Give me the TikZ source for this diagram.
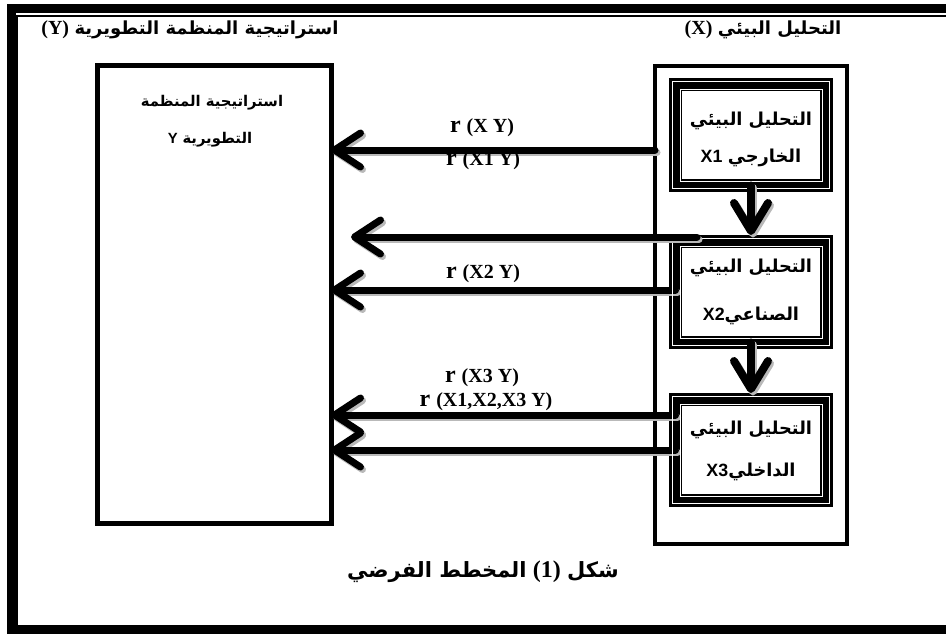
\documentclass[tikz,border=0pt]{standalone}
\usepackage{fontspec}
\TeXXeTstate=1
\newfontfamily\arabfont[Script=Arabic]{DejaVu Sans}
\newfontfamily\seriffont{Liberation Serif}
\newfontfamily\sansfont{Liberation Sans}
\usetikzlibrary{arrows.meta}
\newcommand\artext[1]{{\arabfont\bfseries\beginR #1\endR}}
\newcommand\lat[1]{{\sansfont\bfseries #1}}
\newcommand\rlab[1]{{\seriffont\bfseries{\fontsize{24}{24}\selectfont r }{\fontsize{20}{20}\selectfont #1}}}
\newcommand\harrow[3]{\draw[#1,shadowed] #2 -- #3; \draw[#1] #2 -- #3;}
\newcommand\sframe[1]{%
  \draw[white, line width=1pt] ([shift={(-3,-3)}]#1.north west) rectangle ([shift={(3,3)}]#1.south east);
  \draw[white, line width=1pt] ([shift={(4.5,4.5)}]#1.north west) rectangle ([shift={(-4.5,-4.5)}]#1.south east);}
\begin{document}
\begin{tikzpicture}[x=1pt,y=-1pt,
  every node/.style={inner sep=0pt, outer sep=0pt},
  ybox/.style={draw, line width=5pt, minimum width=234pt, minimum height=458pt},
  xbox/.style={draw, line width=4pt, minimum width=192pt, minimum height=478pt},
  sbox/.style={draw, line width=13pt, minimum width=151pt, minimum height=101pt},
  btext/.style={font=\fontsize{17.8}{18}\selectfont, anchor=center},
  ytext/.style={font=\fontsize{14.8}{15}\selectfont, anchor=center},
  htext/.style={font=\fontsize{18}{18}\selectfont, anchor=center},
  labtext/.style={anchor=center},
  shadowed/.style={draw=gray!55, transform canvas={xshift=2pt,yshift=-2.5pt}},
  larrow/.style={line width=7pt, line cap=round,
     -{Straight Barb[length=26pt,width=34pt,round]}},
  darrow/.style={line width=8pt, line cap=round,
     -{Straight Barb[length=28pt,width=34pt,round]}}
]
\useasboundingbox (0,0) rectangle (946,633);
\begin{scope}
\clip (0,0) rectangle (946,633);
\draw[line width=9pt] (11,8.5) rectangle (975,629.5);
\draw[line width=2pt] (17,16) rectangle (965,626);
\end{scope}

% headings
\node[htext] (hy) at (190,30) {{\seriffont\bfseries\fontsize{20}{20}\selectfont (Y)} \artext{استراتيجية المنظمة التطويرية}};
\node[htext] (hx) at (763,30) {{\seriffont\bfseries\fontsize{20}{20}\selectfont (X)} \artext{التحليل البيئي}};

% main boxes
\node[ybox] (ybox) at (214,294) {};
\node[xbox] (xbox) at (751,305) {};

\node[ytext] (y1) at (212,103) {\artext{استراتيجية المنظمة}};
\node[ytext] (y2) at (210,140) {\lat{Y} \artext{التطويرية}};

% arrow rows
\coordinate (a1) at (0,150);
\coordinate (a2s) at (697,237);
\coordinate (a2e) at (351,237);
\coordinate (a3) at (0,290);
\coordinate (a4) at (0,415);
\coordinate (a5) at (0,450);
\coordinate (c1) at (751,135);
\coordinate (c2) at (751,292);
\coordinate (c3) at (751,450);

\node[sbox] (x1) at (c1) {};
\node[sbox] (x2) at (c2) {};
\node[sbox] (x3) at (c3) {};

\harrow{larrow}{(xbox.west |- a1)}{(ybox.east |- a1)}
\harrow{larrow}{(x2.west |- a3)}{(ybox.east |- a3)}
\harrow{larrow}{(x3.west |- a4)}{(ybox.east |- a4)}
\harrow{larrow}{(x3.west |- a5)}{(ybox.east |- a5)}

\sframe{x1}
\sframe{x2}
\sframe{x3}

\harrow{larrow}{(a2s)}{(a2e)}

\node[btext] (x1a) at (751,121) {\artext{التحليل البيئي}};
\node[btext] (x1b) at (751,158) {\lat{X1} \artext{الخارجي}};
\node[btext] (x2a) at (751,268) {\artext{التحليل البيئي}};
\node[btext] (x2b) at (751,316) {\lat{X2}\artext{الصناعي}};
\node[btext] (x3a) at (751,430) {\artext{التحليل البيئي}};
\node[btext] (x3b) at (751,472) {\lat{X3}\artext{الداخلي}};

\harrow{darrow}{(x1.south)}{([yshift=6.5pt]x2.north)}
\harrow{darrow}{(x2.south)}{([yshift=6.5pt]x3.north)}

% labels
\node[labtext] (l1) at (482,128) {\rlab{(X Y)}};
\node[labtext] (l2) at (483,161) {\rlab{(X1 Y)}};
\node[labtext] (l3) at (483,274) {\rlab{(X2 Y)}};
\node[labtext] (l4) at (482,378) {\rlab{(X3 Y)}};
\node[labtext] (l5) at (486,402) {\rlab{(X1,X2,X3 Y)}};

% caption
\node[font=\fontsize{21}{21}\selectfont] (cap) at (483,572) {\artext{المخطط الفرضي} {\seriffont\bfseries\fontsize{24}{24}\selectfont (1)} \artext{شكل}};
\end{tikzpicture}
\end{document}
